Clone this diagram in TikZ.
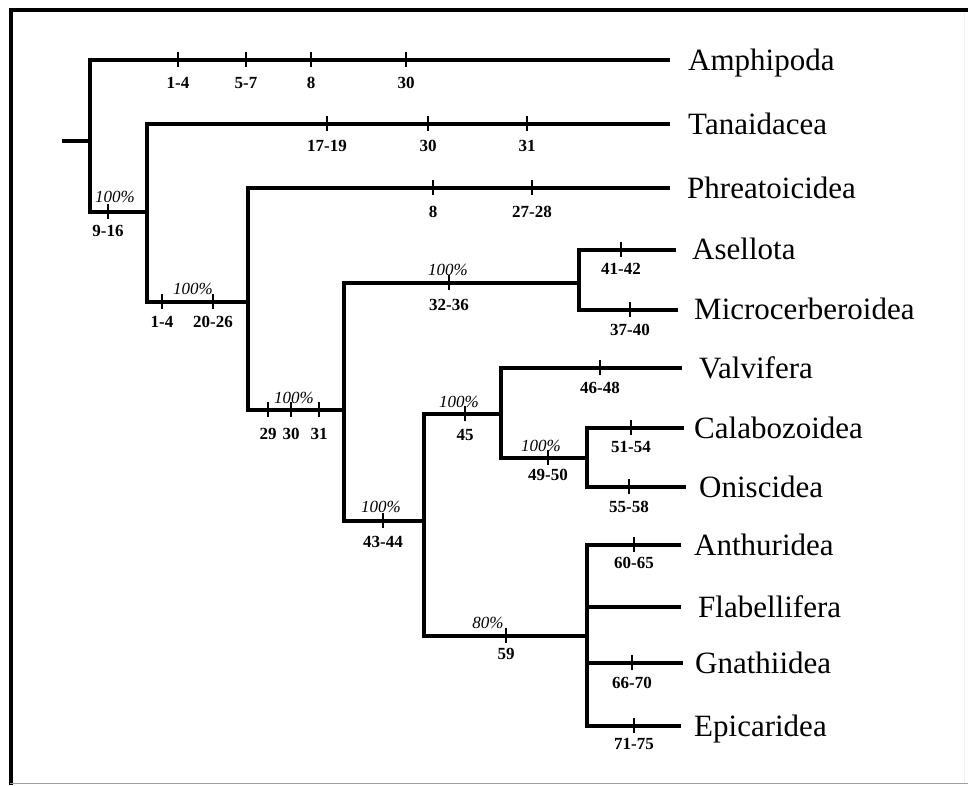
\documentclass[tikz,border=0pt]{standalone}
\usepackage{fontspec}
\setmainfont{Liberation Serif}
\usetikzlibrary{calc}
\newcommand{\mktick}[5]{%
  \draw[tickline] (#2,#3-8) -- (#2,#3+7);
  \node[num] (#1) at (#2,#3+#5) {#4};}
\begin{document}
\begin{tikzpicture}[x=1pt,y=-1pt,
  br/.style={line width=3.2pt, line join=miter},
  tickline/.style={line width=2pt},
  num/.style={inner sep=0pt, font=\fontsize{17}{17}\selectfont\bfseries},
  pct/.style={inner sep=0pt, font=\fontsize{17}{17}\selectfont\itshape},
  taxon/.style={inner sep=0pt, anchor=base west, font=\fontsize{31}{31}\selectfont},
  frame/.style={line width=4pt}]
\useasboundingbox (0,0) rectangle (968,785);
\fill[white] (0,0) rectangle (968,785);
% frame
\draw[frame] (11,785) -- (11,10) -- (968,10);
\draw[gray!75, line width=1.6pt] (10,783.5) -- (968,783.5);
\draw[gray!12, line width=1pt] (964,12) -- (964,782);
% internal nodes
\coordinate (root) at (62,141);
\coordinate (n1) at (90,141);
\coordinate (n2) at (147,212);
\coordinate (n3) at (248,302);
\coordinate (n4) at (344,410);
\coordinate (n5) at (579,283);
\coordinate (n6) at (424,521);
\coordinate (n7) at (501,414);
\coordinate (n8) at (587,458);
\coordinate (n9) at (587,636);
% tips
\coordinate (tAmp) at (670,60);
\coordinate (tTan) at (670,124);
\coordinate (tPhr) at (670,188);
\coordinate (tAse) at (676,250);
\coordinate (tMic) at (678,310);
\coordinate (tVal) at (682,368);
\coordinate (tCal) at (684,428);
\coordinate (tOni) at (686,487);
\coordinate (tAnt) at (681,545);
\coordinate (tFla) at (681,607);
\coordinate (tGna) at (683,663);
\coordinate (tEpi) at (681,726);
% branches
\draw[br] (root) -- (n1);
\draw[br] (tAmp) -| (n1) |- (n2);
\draw[br] (tTan) -| (n2) |- (n3);
\draw[br] (tPhr) -| (n3) |- (n4);
\draw[br] (n5) -| (n4) |- (n6);
\draw[br] (tAse) -| (n5) |- (tMic);
\draw[br] (n7) -| (n6) |- (n9);
\draw[br] (tVal) -| (n7) |- (n8);
\draw[br] (tCal) -| (n8) |- (tOni);
\draw[br] (tAnt) -| (n9) |- (tEpi);
\draw[br] (n9 |- tFla) -- (tFla);
\draw[br] (n9 |- tGna) -- (tGna);
% taxon labels
\node[taxon] (Amphipoda) at ($(tAmp)+(18,10)$) {Amphipoda};
\node[taxon] (Tanaidacea) at ($(tTan)+(18,10)$) {Tanaidacea};
\node[taxon] (Phreatoicidea) at ($(tPhr)+(17,10)$) {Phreatoicidea};
\node[taxon] (Asellota) at ($(tAse)+(16,9)$) {Asellota};
\node[taxon] (Microcerberoidea) at ($(tMic)+(16,9)$) {Microcerberoidea};
\node[taxon] (Valvifera) at ($(tVal)+(17,10)$) {Valvifera};
\node[taxon] (Calabozoidea) at ($(tCal)+(10,10)$) {Calabozoidea};
\node[taxon] (Oniscidea) at ($(tOni)+(13,10)$) {Oniscidea};
\node[taxon] (Anthuridea) at ($(tAnt)+(13,10)$) {Anthuridea};
\node[taxon] (Flabellifera) at ($(tFla)+(17,10)$) {Flabellifera};
\node[taxon] (Gnathiidea) at ($(tGna)+(12,10)$) {Gnathiidea};
\node[taxon] (Epicaridea) at ($(tEpi)+(13,10)$) {Epicaridea};
% character ticks
\mktick{a1}{178}{60}{1-4}{23}
\mktick{a2}{246}{60}{5-7}{23}
\mktick{a3}{311}{60}{8}{23}
\mktick{a4}{406}{60}{30}{23}
\mktick{b1}{327}{124}{17-19}{22}
\mktick{b2}{428}{124}{30}{22}
\mktick{b3}{527}{124}{31}{22}
\mktick{c1}{433}{188}{8}{24}
\mktick{c2}{532}{188}{27-28}{24}
\mktick{d1}{108}{212}{9-16}{19}
\mktick{e1}{162}{302}{1-4}{20}
\mktick{e2}{213}{302}{20-26}{20}
\mktick{f1}{268}{410}{29}{24}
\mktick{f2}{291}{410}{30}{24}
\mktick{f3}{319}{410}{31}{24}
\mktick{g1}{449}{283}{32-36}{22}
\mktick{h1}{621}{250}{41-42}{19}
\mktick{h2}{630}{310}{37-40}{20}
\mktick{i1}{383}{521}{43-44}{21}
\mktick{j1}{465}{414}{45}{21}
\mktick{k1}{600}{368}{46-48}{20}
\mktick{l1}{548}{458}{49-50}{17}
\mktick{m1}{631}{428}{51-54}{19}
\mktick{m2}{629}{487}{55-58}{20}
\mktick{o1}{506}{636}{59}{18}
\mktick{p1}{634}{545}{60-65}{18}
\mktick{p2}{632}{663}{66-70}{20}
\mktick{p3}{634}{726}{71-75}{18}
% bootstrap values
\node[pct] (s1) at (115,197) {100\%};
\node[pct] (s2) at (193,289) {100\%};
\node[pct] (s3) at (294,398) {100\%};
\node[pct] (s4) at (448,270) {100\%};
\node[pct] (s5) at (381,507) {100\%};
\node[pct] (s6) at (459,402) {100\%};
\node[pct] (s7) at (541,446) {100\%};
\node[pct] (s8) at (488,623) {80\%};
\end{tikzpicture}
\end{document}
